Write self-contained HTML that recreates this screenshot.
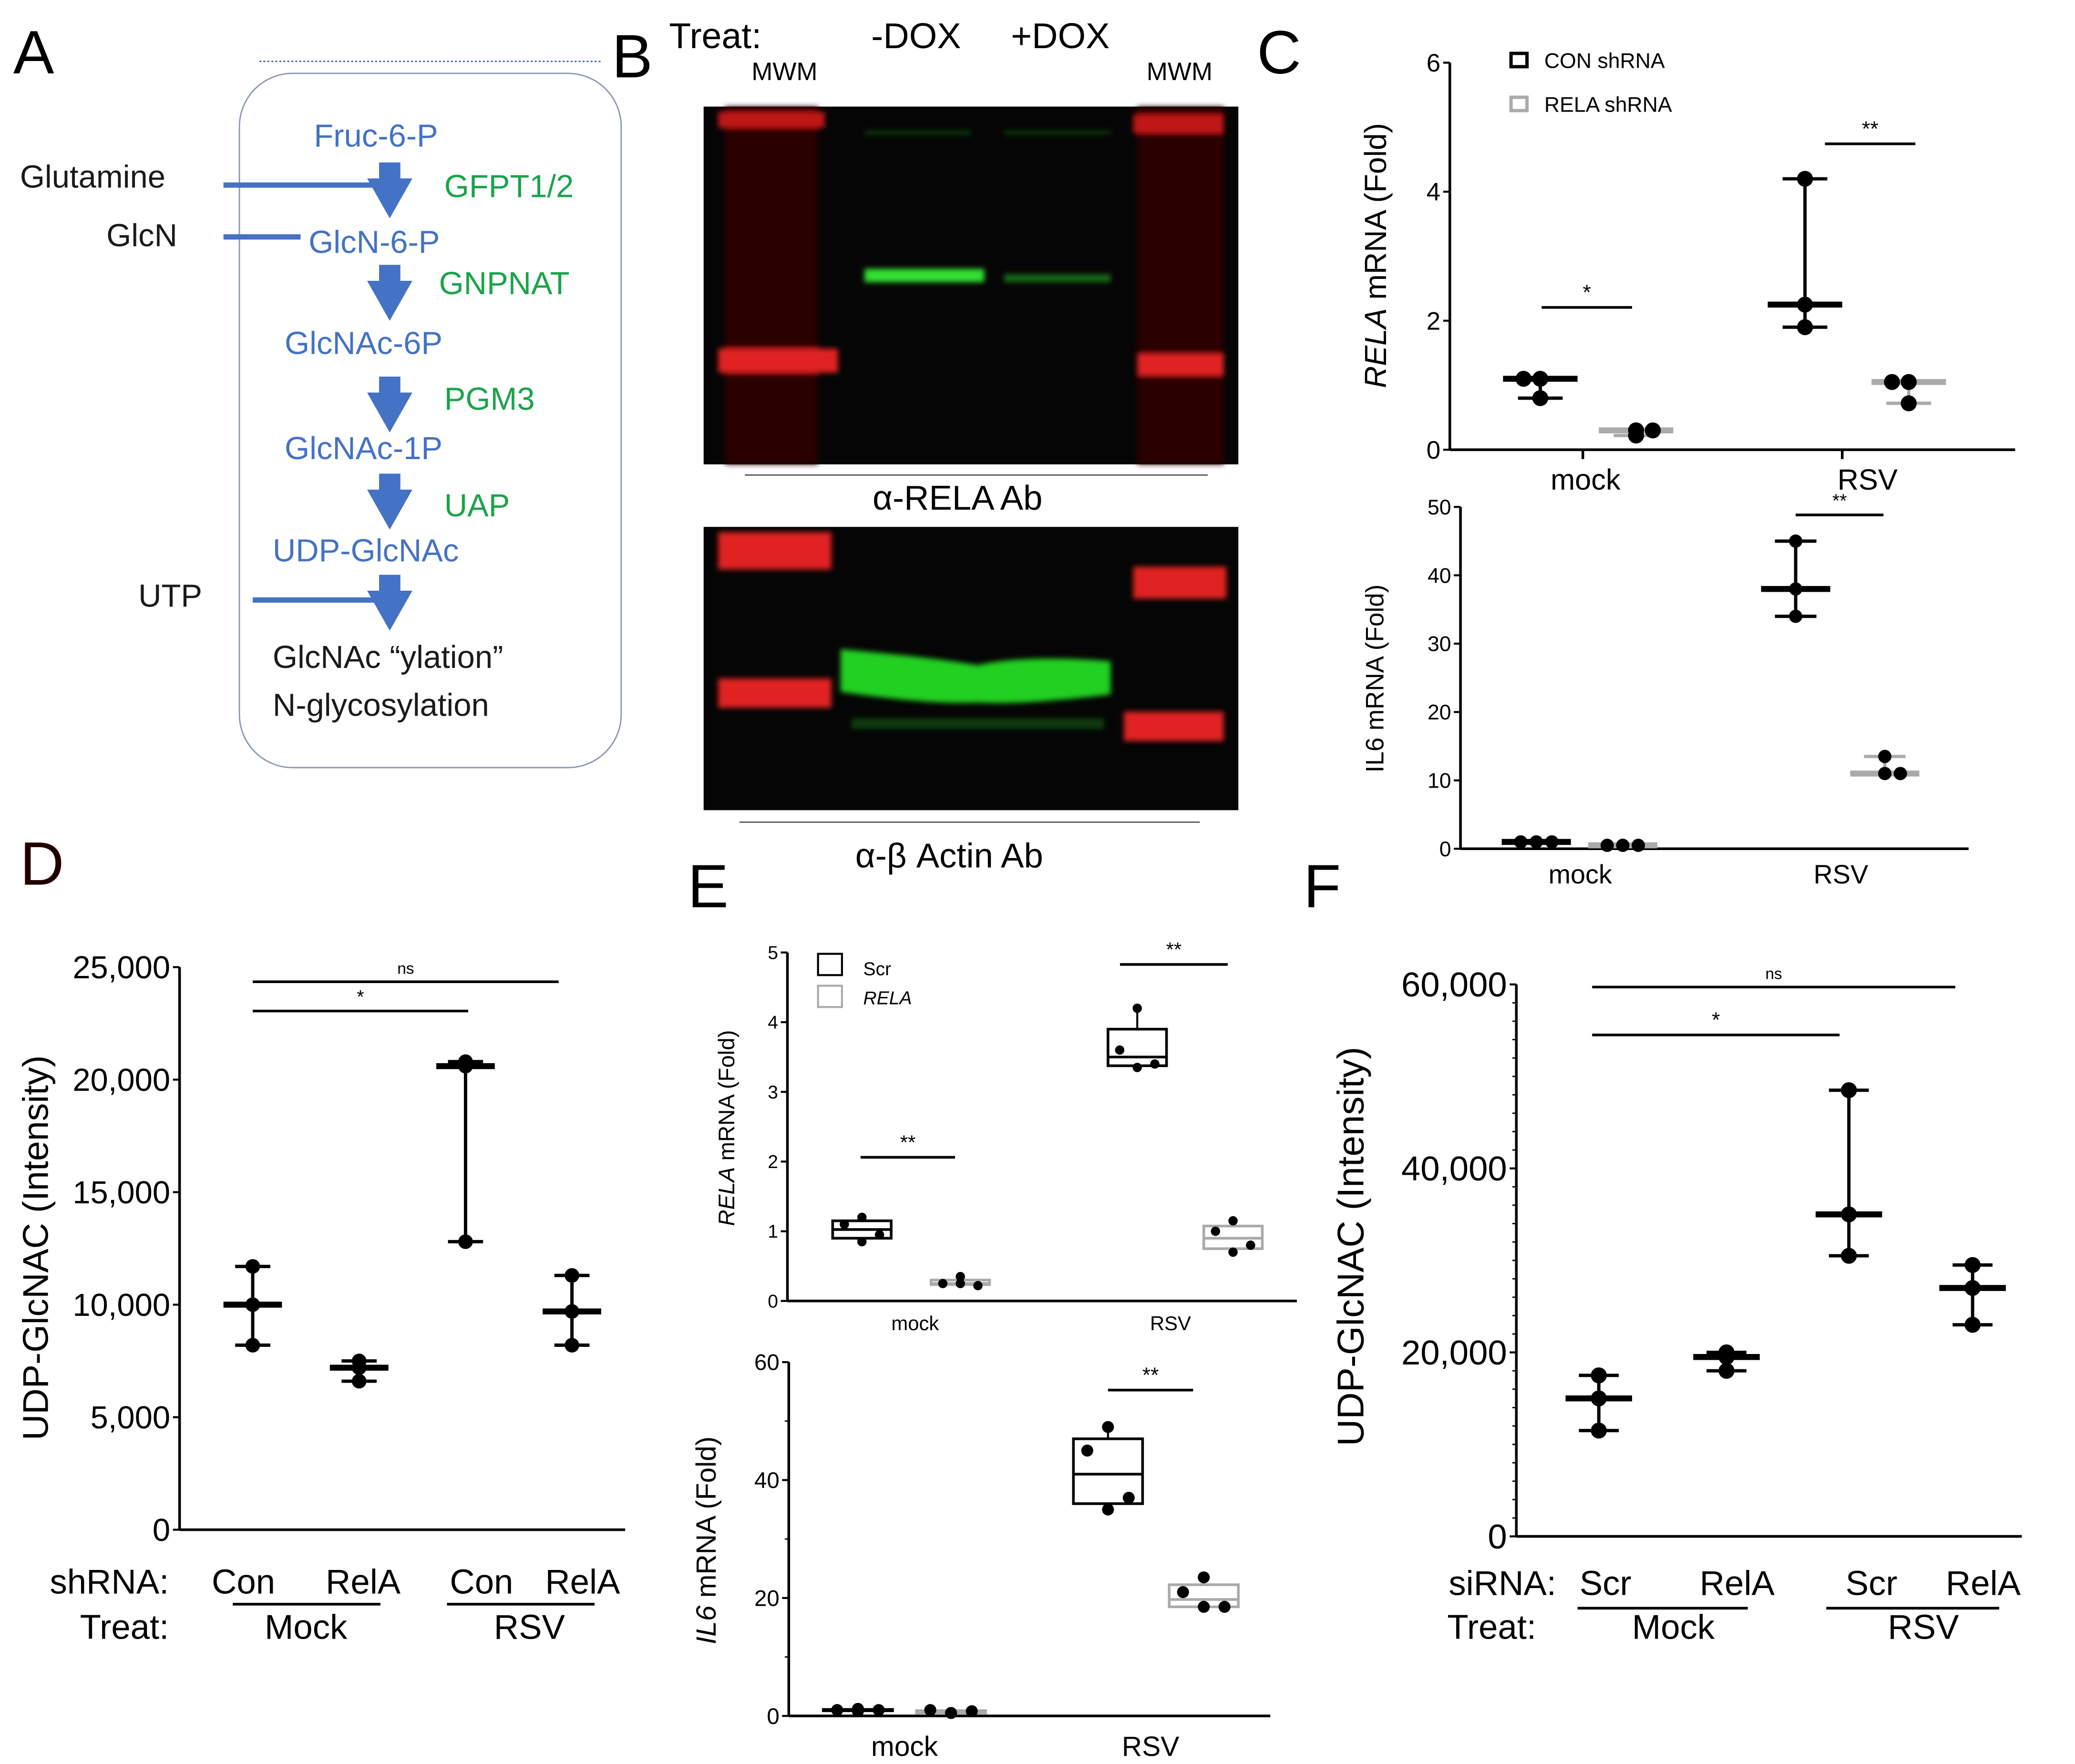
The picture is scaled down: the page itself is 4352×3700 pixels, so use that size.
<!DOCTYPE html>
<html><head><meta charset="utf-8">
<style>
html,body{margin:0;padding:0;background:#fff;}
svg{display:block;}
text{font-family:"Liberation Sans",sans-serif;}
</style></head>
<body>
<svg id="fig" width="4352" height="3700" viewBox="0 0 1560 1326" xmlns="http://www.w3.org/2000/svg">
<rect width="1560" height="1326" fill="#fff"/>
<!-- Panel A -->
<g>
<text x="10" y="55" font-size="46" fill="#000">A</text>
<rect x="180" y="55" width="287" height="522" rx="40" fill="none" stroke="#8a96b0" stroke-width="1"/>
<line x1="195" y1="46" x2="452" y2="46" stroke="#3b5ca8" stroke-width="1" stroke-dasharray="1.5,1.5"/>
<g fill="#4472c4" font-size="24">
<text x="236" y="110">Fruc-6-P</text>
<text x="232" y="190">GlcN-6-P</text>
<text x="214" y="266">GlcNAc-6P</text>
<text x="214" y="345">GlcNAc-1P</text>
<text x="205" y="422">UDP-GlcNAc</text>
</g>
<g fill="#1aa34a" font-size="24">
<text x="334" y="148">GFPT1/2</text>
<text x="330" y="221">GNPNAT</text>
<text x="334" y="308">PGM3</text>
<text x="334" y="388">UAP</text>
</g>
<g fill="#1a1a1a" font-size="24">
<text x="15" y="141">Glutamine</text>
<text x="80" y="185">GlcN</text>
<text x="104" y="456">UTP</text>
<text x="205" y="502">GlcNAc “ylation”</text>
<text x="205" y="538">N-glycosylation</text>
</g>
<g fill="#4472c4">
<path d="M285,122 h16 v12 h9 l-17,30 l-17,-30 h9z"/>
<path d="M285,199 h16 v12 h9 l-17,30 l-17,-30 h9z"/>
<path d="M285,283 h16 v12 h9 l-17,30 l-17,-30 h9z"/>
<path d="M285,356 h16 v12 h9 l-17,30 l-17,-30 h9z"/>
<path d="M285,432 h16 v12 h9 l-17,30 l-17,-30 h9z"/>
</g>
<g stroke="#4472c4" stroke-width="4">
<line x1="168" y1="139" x2="290" y2="139"/>
<line x1="168" y1="178" x2="226" y2="178"/>
<line x1="190" y1="451" x2="290" y2="451"/>
</g>
</g>
<!-- Panel B -->
<g>
<text x="460" y="58" font-size="46">B</text>
<text x="503" y="36" font-size="27">Treat:</text>
<text x="655" y="36" font-size="27">-DOX</text>
<text x="760" y="36" font-size="27">+DOX</text>
<text x="565" y="60" font-size="19">MWM</text>
<text x="862" y="60" font-size="19">MWM</text>
<defs>
<filter id="bl"><feGaussianBlur stdDeviation="2"/></filter>
<filter id="bl2"><feGaussianBlur stdDeviation="4"/></filter>
</defs>
<rect x="529" y="80" width="402" height="269" fill="#050505"/>
<g filter="url(#bl)">
<rect x="545" y="80" width="70" height="269" fill="#2a0505"/>
<rect x="855" y="80" width="65" height="269" fill="#2a0505"/>
<rect x="540" y="84" width="80" height="12" fill="#c01818"/>
<rect x="540" y="262" width="90" height="18" fill="#e02020"/>
<rect x="852" y="86" width="68" height="14" fill="#c01818"/>
<rect x="855" y="266" width="65" height="16" fill="#e02020"/>
<rect x="650" y="202" width="90" height="10" fill="#30e030"/>
<rect x="755" y="206" width="80" height="6" fill="#156a15"/>
<rect x="650" y="98" width="80" height="3" fill="#0d3a0d"/>
<rect x="755" y="98" width="80" height="3" fill="#0d3a0d"/>
</g>
<line x1="560" y1="357" x2="908" y2="357" stroke="#555" stroke-width="1"/>
<text x="656" y="383" font-size="26">α-RELA Ab</text>
<rect x="529" y="396" width="402" height="213" fill="#050505"/>
<g filter="url(#bl)">
<rect x="540" y="400" width="85" height="28" fill="#e02020"/>
<rect x="540" y="510" width="85" height="22" fill="#e02020"/>
<rect x="852" y="426" width="70" height="24" fill="#e02020"/>
<rect x="845" y="535" width="75" height="22" fill="#e02020"/>
<path d="M632,488 Q700,494 735,500 Q770,492 835,497 L835,522 Q770,530 735,528 Q700,530 632,520z" fill="#20d020"/>
<rect x="640" y="540" width="190" height="8" fill="#0d3a0d"/>
</g>
<line x1="556" y1="618" x2="902" y2="618" stroke="#555" stroke-width="1"/>
<text x="643" y="652" font-size="26">α-β Actin Ab</text>
</g>
<!-- Static panel letters and labels -->
<text x="945" y="55" font-size="46">C</text>
<text x="15" y="665" font-size="46" fill="#200">D</text>
<text x="517" y="682" font-size="46">E</text>
<text x="980" y="682" font-size="46">F</text>
<g id="charts"></g>
</svg>
<script>
// ---------- Data ----------
// Panel C top: RELA mRNA (Fold), groups: CON mock, RELA mock, CON RSV, RELA RSV
const cTopGroups = ["CON mock","RELA mock","CON RSV","RELA RSV"];
const cTopValues = [[1.1,1.1,0.8],[0.22,0.3,0.3],[4.2,2.25,1.9],[1.05,1.05,0.72]];
const cTopTicks = [0,2,4,6];
// Panel C bottom: IL6 mRNA
const cBotValues = [[1,1,1],[0.5,0.5,0.5],[45,38,34],[13.5,11,11]];
const cBotTicks = [0,10,20,30,40,50];
// Panel D: UDP-GlcNAC intensity
const dGroups = ["Con Mock","RelA Mock","Con RSV","RelA RSV"];
const dValues = [[11700,10000,8200],[7500,7200,6600],[20800,20600,12800],[11300,9700,8200]];
const dTicks = [0,5000,10000,15000,20000,25000];
const dTickLabels = ["0","5,000","10,000","15,000","20,000","25,000"];
// Panel E top: RELA mRNA box plots
const eTopValues = [[1.2,1.1,0.95,0.85],[0.35,0.25,0.22,0.25],[4.2,3.6,3.4,3.35],[1.15,1.0,0.8,0.7]];
const eTopTicks = [0,1,2,3,4,5];
// Panel E bottom: IL6 mRNA box plots
const eBotValues = [[1.2,1,1,0.8],[0.5,1,0.8,0.5],[49,45,37,35],[23.5,21,18.5,18.5]];
const eBotTicks = [0,20,40,60];
// Panel F: UDP-GlcNAC intensity (siRNA)
const fValues = [[17500,15000,11500],[20000,19500,18000],[48500,35000,30500],[29500,27000,23000]];
const fTicks = [0,20000,40000,60000];
const fTickLabels = ["0","20,000","40,000","60,000"];

const NS="http://www.w3.org/2000/svg";
const root=document.getElementById('charts');
function el(tag,attrs,parent,txt){const e=document.createElementNS(NS,tag);for(const k in attrs)e.setAttribute(k,attrs[k]);if(txt!==undefined)e.textContent=txt;(parent||root).appendChild(e);return e;}
function scale(d0,d1,r0,r1){return v=>r0+(v-d0)*(r1-r0)/(d1-d0);}
function sorted(a){return a.slice().sort((x,y)=>x-y);}
function median(a){const s=sorted(a),n=s.length;return n%2?s[(n-1)/2]:(s[n/2-1]+s[n/2])/2;}
function quart(a){const s=sorted(a);return [ (s[0]+s[1])/2, (s[s.length-2]+s[s.length-1])/2 ];}

function axis(g,x0,x1,y,ys,ticks,labels,fs,minor){
  el('line',{x1:x0,y1:ys(ticks[ticks.length-1]),x2:x0,y2:y,stroke:'#000','stroke-width':2},g);
  el('line',{x1:x0,y1:y,x2:x1,y2:y,stroke:'#000','stroke-width':2},g);
  ticks.forEach((t,i)=>{
    const ty=ys(t);
    el('line',{x1:x0-5,y1:ty,x2:x0,y2:ty,stroke:'#000','stroke-width':1.5},g);
    const tl=el('text',{x:x0-7,y:ty+fs*0.35,'font-size':fs,'text-anchor':'end'},g,labels?labels[i]:String(t));
    
    
    if(minor && i<ticks.length-1){for(let k=1;k<minor;k++){const my=ys(t+(ticks[i+1]-t)*k/minor);el('line',{x1:x0-3,y1:my,x2:x0,y2:my,stroke:'#000','stroke-width':1},g);}}
  });
}
function rangeMark(g,x,vals,ys,color,hw,dot,name){
  const s=sorted(vals),m=median(vals);
  const grp=el('g',{},g);
  
  
  el('line',{x1:x,y1:ys(s[0]),x2:x,y2:ys(s[s.length-1]),stroke:color,'stroke-width':2.5},grp);
  el('line',{x1:x-hw*0.6,y1:ys(s[0]),x2:x+hw*0.6,y2:ys(s[0]),stroke:color,'stroke-width':2.5},grp);
  el('line',{x1:x-hw*0.6,y1:ys(s[s.length-1]),x2:x+hw*0.6,y2:ys(s[s.length-1]),stroke:color,'stroke-width':2.5},grp);
  el('line',{x1:x-hw,y1:ys(m),x2:x+hw,y2:ys(m),stroke:color,'stroke-width':4.5},grp);
  const offs=[-0.5,0,0.5];
  vals.forEach((v,i)=>{
    const pt=el('circle',{cx:x+offs[i%3]*hw*0.9*(Math.abs(v-m)<1e-9&&vals.filter(q=>Math.abs(q-m)<1e-9).length>1?1:0),cy:ys(v),r:dot,fill:'#000'},grp);
    
    
  });
}
function boxMark(g,x,vals,ys,color,hw,dot,name){
  const s=sorted(vals),m=median(vals),q=quart(vals);
  const grp=el('g',{},g);
  
  
  el('line',{x1:x,y1:ys(s[0]),x2:x,y2:ys(s[s.length-1]),stroke:color,'stroke-width':1.5},grp);
  el('rect',{x:x-hw,y:ys(q[1]),width:2*hw,height:Math.max(1,ys(q[0])-ys(q[1])),fill:'#fff',stroke:color,'stroke-width':2},grp);
  el('line',{x1:x-hw,y1:ys(m),x2:x+hw,y2:ys(m),stroke:color,'stroke-width':2},grp);
  const offs=[0,-0.5,0.5,0];
  vals.forEach((v,i)=>{
    const pt=el('circle',{cx:x+offs[i]*hw*1.2,cy:ys(v),r:dot,fill:'#000'},grp);
    
    
  });
}
function sig(g,x1,x2,y,label,fs){
  el('line',{x1:x1,y1:y,x2:x2,y2:y,stroke:'#000','stroke-width':2},g);
  const t=el('text',{x:(x1+x2)/2,y:y-6,'font-size':fs,'text-anchor':'middle'},g,label);
  
  
}

// ---------- Panel C top ----------
(function(){
  const g=el('g',{});
  
  
  const ys=scale(0,6,338,47);
  axis(g,1090,1515,338,ys,cTopTicks,null,19,0);
  const xs=[1158,1230,1357,1435];
  const cols=['#000','#aaa','#000','#aaa'];
  cTopValues.forEach((v,i)=>rangeMark(g,xs[i],v,ys,cols[i],28,6,'group-'+cTopGroups[i].toLowerCase().replace(' ','-')));
  [1190,1385].forEach(x=>el('line',{x1:x,y1:338,x2:x,y2:345,stroke:'#000','stroke-width':2},g));
  el('text',{x:1192,y:368,'font-size':22,'text-anchor':'middle'},g,'mock');
  el('text',{x:1404,y:368,'font-size':22,'text-anchor':'middle'},g,'RSV');
  sig(g,1159,1227,231,'*',16); sig(g,1372,1440,108,'**',16);
  const yt=el('text',{transform:'translate(1042,192) rotate(-90)','font-size':23,'text-anchor':'middle'},g);
  el('tspan',{'font-style':'italic'},yt,'RELA');
  el('tspan',{},yt,' mRNA  (Fold)');
  el('rect',{x:1136,y:40,width:12,height:10,fill:'none',stroke:'#000','stroke-width':2.5},g);
  el('text',{x:1161,y:51,'font-size':16},g,'CON shRNA');
  el('rect',{x:1136,y:73,width:12,height:10,fill:'none',stroke:'#aaa','stroke-width':2.5},g);
  el('text',{x:1161,y:84,'font-size':16},g,'RELA shRNA');
})();
// ---------- Panel C bottom ----------
(function(){
  const g=el('g',{});
  
  
  const ys=scale(0,50,638,381);
  axis(g,1098,1480,638,ys,cBotTicks,null,16,0);
  const xs=[1155,1220,1350,1417];
  const cols=['#000','#aaa','#000','#aaa'];
  cBotValues.forEach((v,i)=>rangeMark(g,xs[i],v,ys,cols[i],26,5,'il6-group-'+i));
  el('text',{x:1188,y:664,'font-size':20,'text-anchor':'middle'},g,'mock');
  el('text',{x:1384,y:664,'font-size':20,'text-anchor':'middle'},g,'RSV');
  sig(g,1350,1416,387,'**',14);
  el('text',{transform:'translate(1040,510) rotate(-90)','font-size':19,'text-anchor':'middle'},g,'IL6 mRNA  (Fold)');
})();
// ---------- Panel D ----------
(function(){
  const g=el('g',{});
  
  
  const ys=scale(0,25000,1150,727);
  axis(g,135,470,1150,ys,dTicks,dTickLabels,24,0);
  const xs=[190,270,350,430];
  dValues.forEach((v,i)=>rangeMark(g,xs[i],v,ys,'#000',22,5.5,'group-'+dGroups[i].toLowerCase().replace(' ','-')));
  sig(g,190,352,760,'*',14); sig(g,190,420,738,'ns',12);
  el('text',{transform:'translate(36,938) rotate(-90)','font-size':27,'text-anchor':'middle'},g,'UDP-GlcNAC (Intensity)');
  el('text',{x:127,y:1198,'font-size':26,'text-anchor':'end'},g,'shRNA:');
  el('text',{x:127,y:1232,'font-size':26,'text-anchor':'end'},g,'Treat:');
  ['Con','RelA','Con','RelA'].forEach((t,i)=>el('text',{x:[183,273,362,438][i],y:1198,'font-size':26,'text-anchor':'middle'},g,t));
  el('line',{x1:175,y1:1206,x2:286,y2:1206,stroke:'#000','stroke-width':2},g);
  el('line',{x1:336,y1:1206,x2:447,y2:1206,stroke:'#000','stroke-width':2},g);
  el('text',{x:230,y:1232,'font-size':26,'text-anchor':'middle'},g,'Mock');
  el('text',{x:398,y:1232,'font-size':26,'text-anchor':'middle'},g,'RSV');
})();
// ---------- Panel E top ----------
(function(){
  const g=el('g',{});
  
  
  const ys=scale(0,5,978,716);
  axis(g,592,975,978,ys,eTopTicks,null,14,0);
  const xs=[648,722,855,927];
  const cols=['#000','#aaa','#000','#aaa'];
  eTopValues.forEach((v,i)=>boxMark(g,xs[i],v,ys,cols[i],22,3.5,'box-'+i));
  el('text',{x:688,y:1000,'font-size':15,'text-anchor':'middle'},g,'mock');
  el('text',{x:880,y:1000,'font-size':15,'text-anchor':'middle'},g,'RSV');
  sig(g,647,718,870,'**',15); sig(g,842,923,725,'**',15);
  const yt=el('text',{transform:'translate(552,848) rotate(-90)','font-size':17,'text-anchor':'middle'},g);
  el('tspan',{'font-style':'italic'},yt,'RELA');
  el('tspan',{},yt,' mRNA  (Fold)');
  el('rect',{x:615,y:717,width:18,height:16,fill:'none',stroke:'#000','stroke-width':1.5},g);
  el('text',{x:649,y:733,'font-size':14},g,'Scr');
  el('rect',{x:615,y:741,width:18,height:16,fill:'none',stroke:'#aaa','stroke-width':1.5},g);
  el('text',{x:649,y:755,'font-size':14,'font-style':'italic'},g,'RELA');
})();
// ---------- Panel E bottom ----------
(function(){
  const g=el('g',{});
  
  
  const ys=scale(0,60,1290,1024);
  axis(g,593,955,1290,ys,eBotTicks,null,17,2);
  const xs=[645,715,833,905];
  const cols=['#000','#aaa','#000','#aaa'];
  eBotValues.forEach((v,i)=>boxMark(g,xs[i],v,ys,cols[i],26,4.5,'il6-box-'+i));
  el('text',{x:680,y:1320,'font-size':21,'text-anchor':'middle'},g,'mock');
  el('text',{x:865,y:1320,'font-size':21,'text-anchor':'middle'},g,'RSV');
  sig(g,833,897,1045,'**',16);
  const yt=el('text',{transform:'translate(538,1158) rotate(-90)','font-size':21,'text-anchor':'middle'},g);
  el('tspan',{'font-style':'italic'},yt,'IL6');
  el('tspan',{},yt,' mRNA  (Fold)');
})();
// ---------- Panel F ----------
(function(){
  const g=el('g',{});
  
  
  const ys=scale(0,60000,1155,740);
  axis(g,1140,1520,1155,ys,fTicks,fTickLabels,26,10);
  const xs=[1202,1298,1390,1483];
  fValues.forEach((v,i)=>rangeMark(g,xs[i],v,ys,'#000',25,6,'f-group-'+i));
  sig(g,1197,1383,778,'*',16); sig(g,1197,1470,742,'ns',12);
  el('text',{transform:'translate(1025,937) rotate(-90)','font-size':28,'text-anchor':'middle'},g,'UDP-GlcNAC (Intensity)');
  el('text',{x:1170,y:1199,'font-size':26,'text-anchor':'end'},g,'siRNA:');
  el('text',{x:1155,y:1232,'font-size':26,'text-anchor':'end'},g,'Treat:');
  ['Scr','RelA','Scr','RelA'].forEach((t,i)=>el('text',{x:[1207,1306,1407,1491][i],y:1199,'font-size':26,'text-anchor':'middle'},g,t));
  el('line',{x1:1186,y1:1209,x2:1314,y2:1209,stroke:'#000','stroke-width':2},g);
  el('line',{x1:1373,y1:1209,x2:1503,y2:1209,stroke:'#000','stroke-width':2},g);
  el('text',{x:1258,y:1232,'font-size':26,'text-anchor':'middle'},g,'Mock');
  el('text',{x:1446,y:1232,'font-size':26,'text-anchor':'middle'},g,'RSV');
})();
</script>
</body></html>
